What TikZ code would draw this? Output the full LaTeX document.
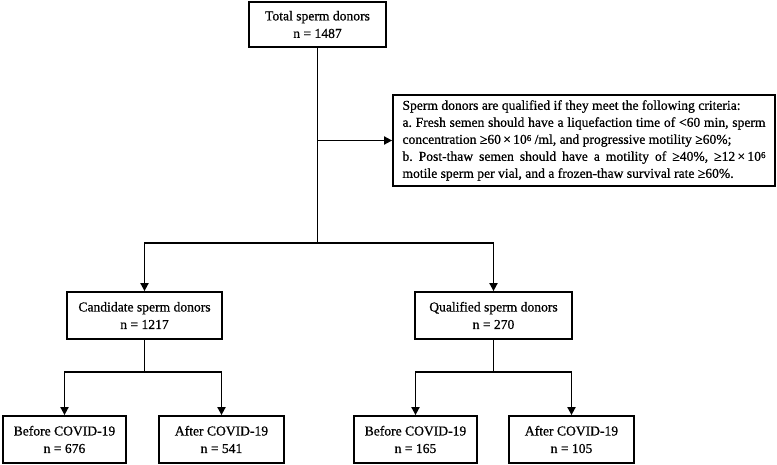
\documentclass[tikz,border=0pt]{standalone}
\usepackage{fontspec}
\setmainfont{Liberation Serif}[FakeBold=0.7]
\usetikzlibrary{arrows.meta}
\newcommand{\supsix}{\raisebox{0.45ex}{\fontsize{9}{9}\selectfont 6}}
\begin{document}
\frenchspacing
\begin{tikzpicture}[x=1pt,y=-1pt,
  box/.style={draw, line width=1.8pt, align=center, inner sep=0pt,
    font=\fontsize{13.6}{17.5}\selectfont, minimum height=47pt},
  conn/.style={line width=1.8pt},
  arr/.style={line width=1.8pt, -{Triangle[length=8pt,width=8pt]}}]
\useasboundingbox (0,0) rectangle (777,465);
\fill[white] (0,0) rectangle (777,465);
\node[box, minimum width=137pt, minimum height=45pt] (total) at (317.5,24.5) {Total sperm donors\\n = 1487};
\node[box, minimum width=382pt, minimum height=91pt, text width=363pt, align=justify,
      font=\fontsize{13.6}{17}\selectfont] (crit) at (584,140.5)
 {Sperm donors are qualified if they meet the following criteria:\\
  a. Fresh semen should have a liquefaction time of <60 min, sperm\linebreak
  concentration ≥60\,×\,10\supsix\ /ml, and progressive motility ≥60\%;\\
  b. Post-thaw semen should have a motility of ≥40\%, ≥12\,×\,10\supsix\linebreak
  motile sperm per vial, and a frozen-thaw survival rate ≥60\%.};
\node[box, minimum width=155pt] (cand) at (144.5,315.5) {Candidate sperm donors\\n = 1217};
\node[box, minimum width=157pt] (qual) at (493.5,315.5) {Qualified sperm donors\\n = 270};
\node[box, minimum width=123pt] (bl) at (64.5,439.5) {Before COVID-19\\n = 676};
\node[box, minimum width=125pt] (al) at (221.5,439.5) {After COVID-19\\n = 541};
\node[box, minimum width=123pt] (br) at (415.5,439.5) {Before COVID-19\\n = 165};
\node[box, minimum width=125pt] (ar) at (571.5,439.5) {After COVID-19\\n = 105};
% connectors
\coordinate (crj) at (total.south |- crit.west);
\path (total.south) ++(0,195) coordinate (j1);
\draw[conn] (total.south) -- (j1);
\draw[arr] (crj) -- (crit.west);
\draw[arr] (j1) -| (cand.north);
\draw[arr] (j1) -| (qual.north);
\path (cand.south) ++(0,32) coordinate (j2);
\draw[conn] (cand.south) -- (j2);
\draw[arr] (j2) -| (bl.north);
\draw[arr] (j2) -| (al.north);
\path (qual.south) ++(0,32) coordinate (j3);
\draw[conn] (qual.south) -- (j3);
\draw[arr] (j3) -| (br.north);
\draw[arr] (j3) -| (ar.north);
\end{tikzpicture}
\end{document}
